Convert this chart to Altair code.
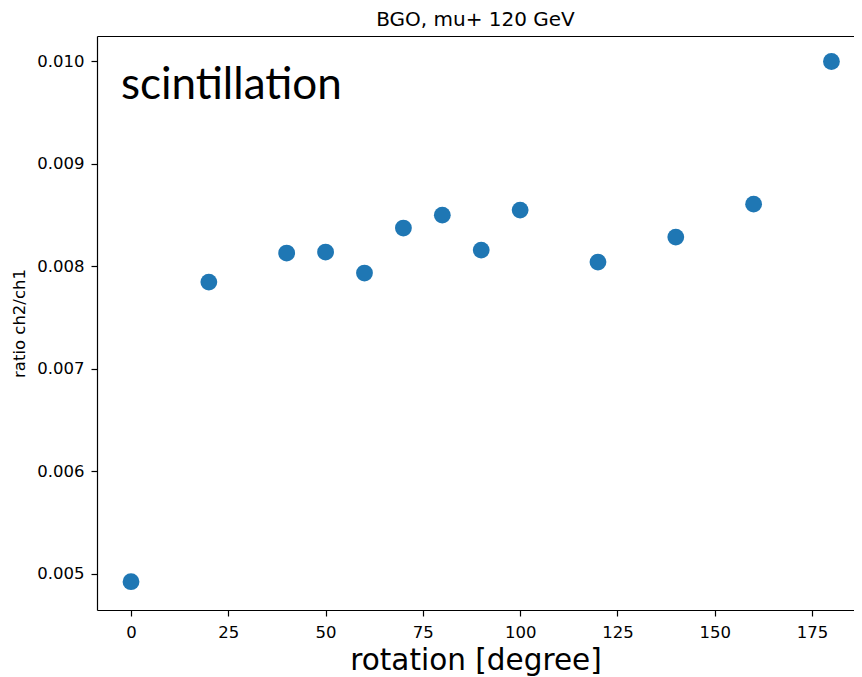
import altair as alt
import pandas as pd

# data
rotation = [0, 20, 40, 50, 60, 70, 80, 90, 100, 120, 140, 160, 180]
ratio = [0.004922, 0.007844, 0.008127, 0.008137, 0.007932, 0.008371,
         0.008497, 0.008156, 0.008546, 0.008039, 0.008283, 0.008604, 0.009995]
x_ticks = [0, 25, 50, 75, 100, 125, 150, 175]
y_ticks = [0.005, 0.006, 0.007, 0.008, 0.009, 0.010]
annot_text = ["scintillation"]
annot_x = [-2.6]
annot_y = [0.00963]

df = pd.DataFrame({"rotation": rotation, "ratio": ratio})
ann = pd.DataFrame({"x": annot_x, "y": annot_y, "text": annot_text})

xscale = alt.Scale(domain=[-8.74, 185.8], nice=False, zero=False)
yscale = alt.Scale(domain=[0.004646, 0.010244], nice=False, zero=False)

yaxis = alt.Axis(values=y_ticks, format=".3f", title="ratio ch2/ch1",
                 titleFontSize=16.5, titlePadding=9, labelPadding=7)

points = alt.Chart(df).mark_circle(size=283, color="#1f77b4", opacity=1).encode(
    x=alt.X("rotation:Q", scale=xscale,
            axis=alt.Axis(values=x_ticks, format="d", title="rotation [degree]",
                          titleFontSize=29.5, titlePadding=6, labelPadding=8)),
    y=alt.Y("ratio:Q", scale=yscale, axis=yaxis),
)

top_spine = alt.Chart(df).mark_circle(opacity=0).encode(
    x=alt.X("rotation:Q", scale=xscale,
            axis=alt.Axis(orient="top", labels=False, ticks=False, title=None,
                          domain=True, grid=False)),
    y=alt.Y("ratio:Q", scale=yscale, axis=yaxis),
)

text = alt.Chart(ann).mark_text(align="left", baseline="alphabetic", font="Lato",
                                fontSize=44, color="black").encode(
    x=alt.X("x:Q", scale=xscale, axis=None),
    y=alt.Y("y:Q", scale=yscale, axis=yaxis),
    text="text:N",
)

chart = alt.layer(points, top_spine, text).resolve_axis(x="independent").properties(
    width=757,
    height=574,
    title=alt.TitleParams("BGO, mu+ 120 GeV", font="DejaVu Sans", fontSize=20,
                          fontWeight="normal", offset=6, color="black"),
    padding={"left": 3, "top": 2, "right": 0, "bottom": 2},
).configure_view(stroke=None).configure_axis(
    grid=False,
    labelFont="DejaVu Sans",
    labelFontSize=16.5,
    labelColor="black",
    titleFont="DejaVu Sans",
    titleFontWeight="normal",
    titleColor="black",
    tickColor="black",
    tickSize=6,
    tickWidth=1.2,
    domainColor="black",
    domainWidth=1.2,
)

chart.save("out.html", embed_options={"renderer": "svg", "actions": False})
